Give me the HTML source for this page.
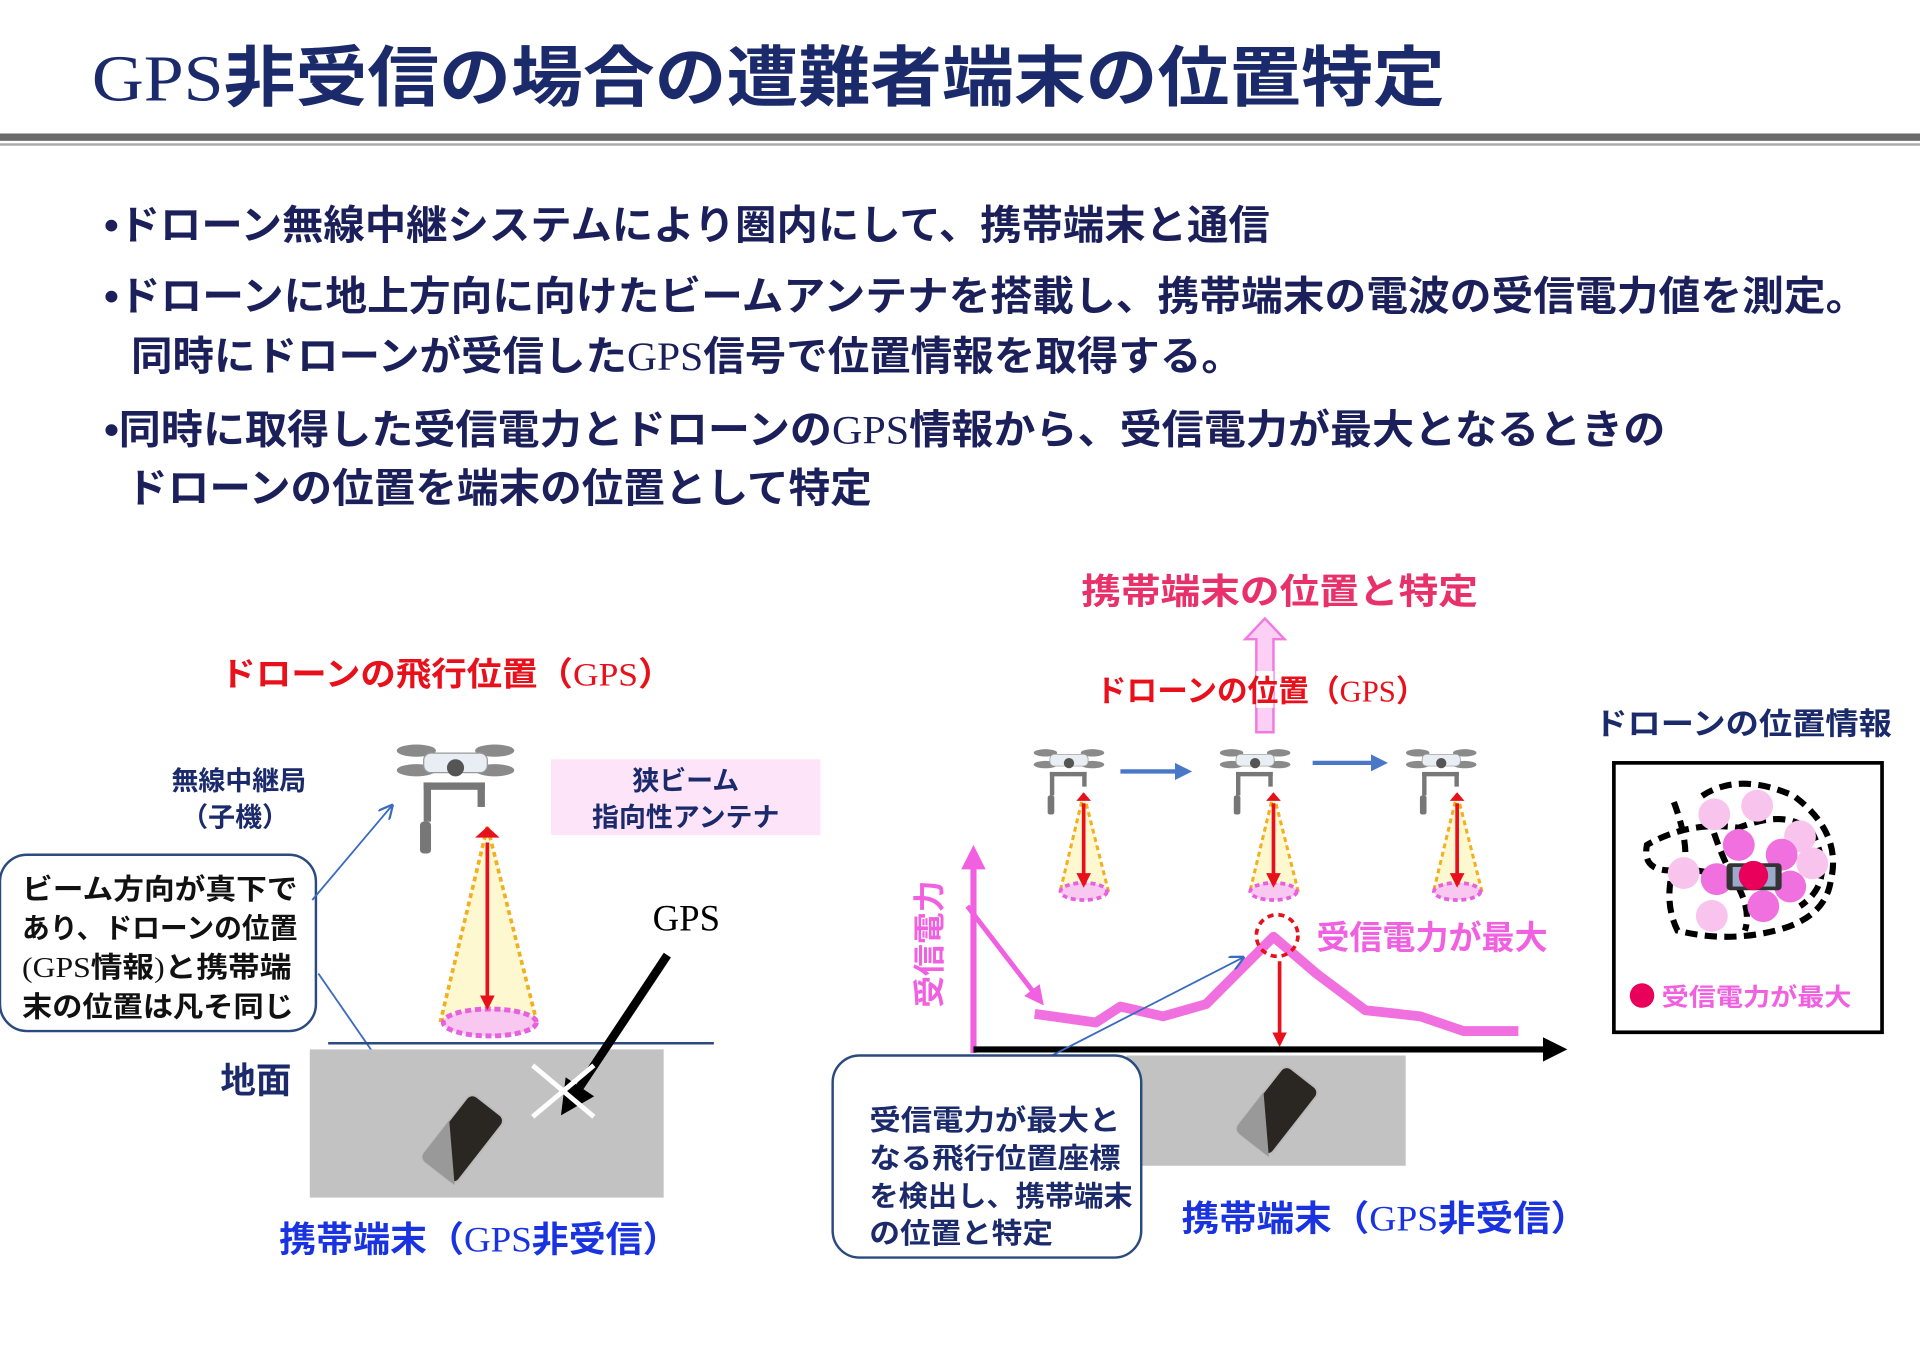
<!DOCTYPE html>
<html><head><meta charset="utf-8">
<style>
html,body{margin:0;padding:0;background:#fff}
svg{display:block}
text{font-family:"Liberation Sans","Noto Sans CJK JP",sans-serif;font-weight:bold}
.serif{font-family:"Liberation Serif","Noto Sans CJK JP",serif;font-weight:normal}
</style></head>
<body>
<svg width="1920" height="1358" viewBox="0 0 1568 1109" xmlns="http://www.w3.org/2000/svg">
<defs>
<marker id="ab" markerWidth="8" markerHeight="8" refX="7" refY="4" orient="auto" markerUnits="strokeWidth"><path d="M0,0 L8,4 L0,8" fill="none" stroke="#3a6bc0" stroke-width="1.2"/></marker>
<marker id="ar" markerWidth="4" markerHeight="4" refX="3" refY="2" orient="auto" markerUnits="strokeWidth"><path d="M0,0 L4,2 L0,4z" fill="#e8101a"/></marker>
<marker id="ak" markerWidth="4" markerHeight="4" refX="3" refY="2" orient="auto" markerUnits="strokeWidth"><path d="M0,0 L4,2 L0,4z" fill="#000"/></marker>
<marker id="ap" markerWidth="4" markerHeight="4" refX="3" refY="2" orient="auto" markerUnits="strokeWidth"><path d="M0,0 L4,2 L0,4z" fill="#f060e0"/></marker>
<marker id="abl" markerWidth="4" markerHeight="4" refX="3" refY="2" orient="auto" markerUnits="strokeWidth"><path d="M0,0 L4,2 L0,4z" fill="#4a78c8"/></marker>
<g id="drone">
<ellipse cx="-32" cy="-12" rx="16" ry="5" fill="#8a8a8a"/>
<ellipse cx="32" cy="-12" rx="16" ry="5" fill="#8a8a8a"/>
<ellipse cx="-32" cy="4" rx="16" ry="5" fill="#8a8a8a"/>
<ellipse cx="32" cy="4" rx="16" ry="5" fill="#8a8a8a"/>
<rect x="-26" y="-10" width="52" height="16" rx="6" fill="#e8eef4" stroke="#999"/>
<circle cx="0" cy="2" r="7" fill="#555"/>
<rect x="-26" y="14" width="50" height="6" fill="#777"/>
<rect x="-26" y="14" width="6" height="32" fill="#777"/>
<rect x="18" y="14" width="6" height="20" fill="#777"/>
<rect x="-29" y="46" width="9" height="26" rx="3" fill="#777"/>
</g>
<g id="phone">
<rect x="-18" y="-34" width="36" height="68" rx="6" fill="#2a2622" stroke="#bbb" stroke-width="1.5"/>
<path d="M-18,-5 L18,34 L-12,34 Q-18,34 -18,28z" fill="#999"/>
</g>
</defs>

<text x="75" y="82" font-size="54" fill="#1b2a6b" textLength="1105" lengthAdjust="spacingAndGlyphs"><tspan class="serif">GPS</tspan>非受信の場合の遭難者端末の位置特定</text>
<rect x="0" y="109" width="1568" height="6" fill="#6a6a6a"/>
<rect x="0" y="117" width="1568" height="2" fill="#aaa"/>

<g fill="#1b1f5a" font-size="33">
<text x="85" y="195" textLength="952" lengthAdjust="spacingAndGlyphs">•ドローン無線中継システムにより圏内にして、携帯端末と通信</text>
<text x="85" y="253" textLength="1440" lengthAdjust="spacingAndGlyphs">•ドローンに地上方向に向けたビームアンテナを搭載し、携帯端末の電波の受信電力値を測定。</text>
<text x="107" y="302" textLength="908" lengthAdjust="spacingAndGlyphs">同時にドローンが受信した<tspan class="serif">GPS</tspan>信号で位置情報を取得する。</text>
<text x="85" y="362" textLength="1275" lengthAdjust="spacingAndGlyphs">•同時に取得した受信電力とドローンの<tspan class="serif">GPS</tspan>情報から、受信電力が最大となるときの</text>
<text x="103" y="410" textLength="609" lengthAdjust="spacingAndGlyphs">ドローンの位置を端末の位置として特定</text>
</g>

<text x="180" y="560" font-size="27" fill="#e8101a" textLength="370" lengthAdjust="spacingAndGlyphs">ドローンの飛行位置（<tspan class="serif">GPS</tspan>）</text>
<use href="#drone" transform="translate(372,625)"/>
<text x="195" y="645" font-size="22" fill="#1b2a6b" text-anchor="middle">無線中継局</text>
<text x="192" y="675" font-size="22" fill="#1b2a6b" text-anchor="middle">（子機）</text>
<rect x="450" y="620" width="220" height="62" fill="#fde4f8"/>
<text x="560" y="645" font-size="22" fill="#1b2a6b" text-anchor="middle">狭ビーム</text>
<text x="560" y="675" font-size="22" fill="#1b2a6b" text-anchor="middle">指向性アンテナ</text>

<path d="M398,675 L360,833 L438,833z" fill="#fdf8d0" stroke="#f0b020" stroke-width="3" stroke-dasharray="4,3"/>
<ellipse cx="400" cy="835" rx="38" ry="11" fill="#f8c8f0" stroke="#e860e0" stroke-width="4" stroke-dasharray="5,3"/>
<line x1="398" y1="688" x2="398" y2="822" stroke="#e8101a" stroke-width="3" marker-end="url(#ar)"/>
<path d="M388,684 L398,675 L408,684z" fill="#e8101a"/>

<rect x="0" y="698" width="258" height="144" rx="22" fill="#fff" stroke="#2a4a80" stroke-width="2"/>
<g font-size="23" fill="#111">
<text x="18" y="734" textLength="225" lengthAdjust="spacingAndGlyphs">ビーム方向が真下で</text>
<text x="18" y="766" textLength="225" lengthAdjust="spacingAndGlyphs">あり、ドローンの位置</text>
<text x="18" y="798" textLength="220" lengthAdjust="spacingAndGlyphs"><tspan class="serif">(GPS</tspan>情報<tspan class="serif">)</tspan>と携帯端</text>
<text x="18" y="830" textLength="222" lengthAdjust="spacingAndGlyphs">末の位置は凡そ同じ</text>
</g>
<line x1="255" y1="735" x2="320" y2="658" stroke="#3a6bc0" stroke-width="1.5" marker-end="url(#ab)"/>
<line x1="260" y1="795" x2="345" y2="918" stroke="#3a6bc0" stroke-width="1.5" marker-end="url(#ab)"/>

<line x1="268" y1="852" x2="583" y2="852" stroke="#2a4a80" stroke-width="2"/>
<rect x="253" y="857" width="289" height="121" fill="#c2c2c2"/>
<text x="180" y="892" font-size="29" fill="#1b2a6b">地面</text>
<use href="#phone" transform="translate(378,930) rotate(38)"/>
<line x1="545" y1="780" x2="462" y2="905" stroke="#000" stroke-width="7" marker-end="url(#ak)"/>
<line x1="435" y1="870" x2="485" y2="912" stroke="#fff" stroke-width="4"/>
<line x1="485" y1="870" x2="435" y2="912" stroke="#fff" stroke-width="4"/>
<text x="533" y="760" font-size="30" class="serif" fill="#000">GPS</text>
<text x="228" y="1022" font-size="29" fill="#1a33e0" textLength="327" lengthAdjust="spacingAndGlyphs">携帯端末（<tspan class="serif">GPS</tspan>非受信）</text>

<text x="883" y="493" font-size="29" fill="#e8306a" textLength="324" lengthAdjust="spacingAndGlyphs">携帯端末の位置と特定</text>
<path d="M1026,598 L1026,522 L1017,522 L1033,505 L1049,522 L1040,522 L1040,598z" fill="#fbd0f4" stroke="#f07ae0" stroke-width="2"/>
<rect x="1026" y="548" width="14" height="30" fill="#fff"/>
<text x="895" y="573" font-size="25" fill="#e8101a" textLength="270" lengthAdjust="spacingAndGlyphs">ドローンの位置（<tspan class="serif">GPS</tspan>）</text>

<g transform="translate(873,622) scale(0.6)"><use href="#drone"/></g>
<g transform="translate(1025,622) scale(0.6)"><use href="#drone"/></g>
<g transform="translate(1177,622) scale(0.6)"><use href="#drone"/></g>
<line x1="915" y1="630" x2="970" y2="630" stroke="#4a78c8" stroke-width="3.5" marker-end="url(#abl)"/>
<line x1="1072" y1="623" x2="1130" y2="623" stroke="#4a78c8" stroke-width="3.5" marker-end="url(#abl)"/>
<g id="beams">
<path d="M885,648 L866,727 L905,727z" fill="#fdf8d0" stroke="#f0b020" stroke-width="2.5" stroke-dasharray="4,3"/>
<ellipse cx="885" cy="728" rx="19" ry="7" fill="#f8c8f0" stroke="#e860e0" stroke-width="3" stroke-dasharray="4,3"/>
<line x1="885" y1="656" x2="885" y2="722" stroke="#e8101a" stroke-width="3" marker-end="url(#ar)"/>
<path d="M879,654 L885,647 L891,654z" fill="#e8101a"/>
</g>
<use href="#beams" transform="translate(155,0)"/>
<use href="#beams" transform="translate(305,0)"/>

<line x1="795" y1="860" x2="795" y2="695" stroke="#f060e0" stroke-width="5" marker-end="url(#ap)"/>
<text x="772" y="775" font-size="26" fill="#f060e0" text-anchor="middle" transform="rotate(-90 768 775)">受信電力</text>
<line x1="795" y1="857" x2="1275" y2="857" stroke="#000" stroke-width="5" marker-end="url(#ak)"/>
<polyline points="845,828 895,835 915,822 950,830 985,820 1040,765 1075,795 1115,825 1160,830 1195,842 1240,842" fill="none" stroke="#f070e0" stroke-width="8" stroke-linejoin="round"/>
<line x1="790" y1="740" x2="850" y2="818" stroke="#f060e0" stroke-width="4" marker-end="url(#ap)"/>
<circle cx="1043" cy="764" r="17" fill="none" stroke="#e8101a" stroke-width="3" stroke-dasharray="5,4"/>
<text x="1075" y="775" font-size="27" fill="#f060e0">受信電力が最大</text>
<line x1="1045" y1="785" x2="1045" y2="852" stroke="#e8101a" stroke-width="3" marker-end="url(#ar)"/>

<rect x="920" y="862" width="228" height="90" fill="#c2c2c2"/>
<use href="#phone" transform="translate(1043,907) rotate(38)"/>
<line x1="820" y1="882" x2="1015" y2="782" stroke="#3a6bc0" stroke-width="1.5" marker-end="url(#ab)"/>
<rect x="680" y="862" width="252" height="165" rx="22" fill="#fff" stroke="#2a4a80" stroke-width="2"/>
<g font-size="23" fill="#1b2a6b">
<text x="710" y="923" textLength="205" lengthAdjust="spacingAndGlyphs">受信電力が最大と</text>
<text x="710" y="954" textLength="205" lengthAdjust="spacingAndGlyphs">なる飛行位置座標</text>
<text x="710" y="985" textLength="215" lengthAdjust="spacingAndGlyphs">を検出し、携帯端末</text>
<text x="710" y="1015" textLength="150" lengthAdjust="spacingAndGlyphs">の位置と特定</text>
</g>
<text x="965" y="1005" font-size="29" fill="#1a33e0" textLength="332" lengthAdjust="spacingAndGlyphs">携帯端末（<tspan class="serif">GPS</tspan>非受信）</text>

<text x="1302" y="600" font-size="25" fill="#1b2a6b" textLength="243" lengthAdjust="spacingAndGlyphs">ドローンの位置情報</text>
<rect x="1318" y="623" width="219" height="220" fill="#fff" stroke="#000" stroke-width="3"/>
<g fill="none" stroke="#000" stroke-width="5" stroke-dasharray="10,6">
<path d="M1367,655 Q1380,690 1375,710 Q1340,715 1345,690 Q1380,670 1420,676 Q1460,660 1480,680 Q1500,720 1470,740"/>
<path d="M1390,650 Q1420,630 1465,650 Q1505,680 1495,720 Q1490,750 1450,760 Q1410,770 1370,760 Q1360,740 1365,715 Q1395,705 1400,720"/>
<path d="M1395,665 Q1405,700 1420,725 Q1430,745 1425,760"/>
</g>
<g>
<circle cx="1375" cy="713" r="13" fill="#f8c4ee"/>
<circle cx="1400" cy="665" r="13" fill="#f8c4ee"/>
<circle cx="1435" cy="658" r="13" fill="#f8c4ee"/>
<circle cx="1470" cy="683" r="13" fill="#f8c4ee"/>
<circle cx="1480" cy="705" r="13" fill="#f8c4ee"/>
<circle cx="1398" cy="748" r="13" fill="#f8c4ee"/>
<circle cx="1420" cy="690" r="13" fill="#f070e0"/>
<circle cx="1455" cy="698" r="13" fill="#f070e0"/>
<circle cx="1402" cy="718" r="13" fill="#f070e0"/>
<circle cx="1462" cy="724" r="13" fill="#f070e0"/>
<circle cx="1440" cy="740" r="13" fill="#f070e0"/>
<rect x="1410" y="705" width="45" height="22" rx="3" fill="#333"/>
<rect x="1415" y="708" width="35" height="16" fill="#9ac"/>
<circle cx="1432" cy="715" r="12" fill="#e8005a"/>
</g>
<circle cx="1341" cy="813" r="10" fill="#e8005a"/>
<text x="1357" y="821" font-size="20" fill="#f060e0" textLength="155" lengthAdjust="spacingAndGlyphs">受信電力が最大</text>
</svg>
</body></html>
